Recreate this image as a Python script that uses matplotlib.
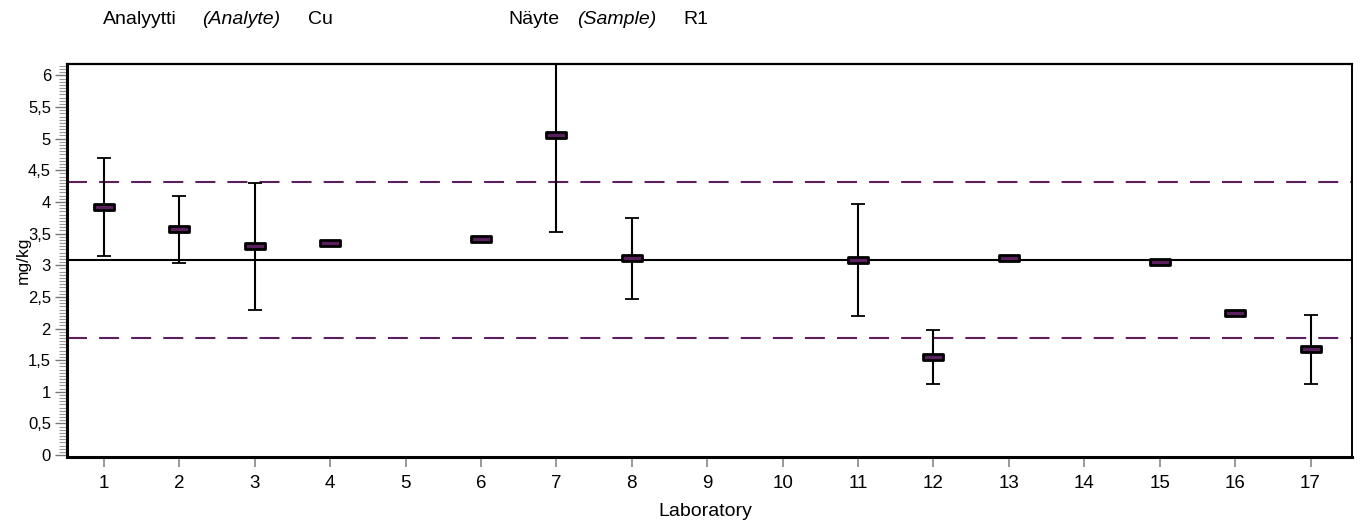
import matplotlib.pyplot as plt
import numpy as np
from matplotlib.ticker import MultipleLocator, FuncFormatter
from matplotlib.path import Path

plt.rcParams['font.family'] = ['Liberation Sans', 'DejaVu Sans']

# results per laboratory (mg/kg) and expanded uncertainty
labs = [1, 2, 3, 4, 6, 7, 8, 11, 12, 13, 15, 16, 17]
result = [3.92, 3.57, 3.30, 3.35, 3.41, 5.06, 3.11, 3.08, 1.55, 3.11, 3.05, 2.24, 1.67]
uncert = [0.78, 0.53, 1.00, 0, 0, 1.54, 0.64, 0.88, 0.43, 0, 0, 0, 0.55]

assigned = 3.08
lower_lim = 1.85
upper_lim = 4.31

fig = plt.figure(figsize=(13.61, 5.24), dpi=100)
ax = fig.add_axes([0.0492, 0.1279, 0.9442, 0.75])

purple = '#5b1f5e'

ax.axhline(assigned, color='black', lw=1.5, zorder=2)
ax.axhline(upper_lim, color=purple, lw=1.5, dashes=(9.6, 5.8), zorder=2)
ax.axhline(lower_lim, color=purple, lw=1.5, dashes=(9.6, 5.8), zorder=2)

# error bars only where an uncertainty is given
x = np.array(labs)
y = np.array(result)
u = np.array(uncert)
has_u = u > 0
ax.errorbar(x[has_u], y[has_u], yerr=u[has_u], fmt='none', ecolor='black',
            elinewidth=1.5, capsize=5, capthick=1.3, zorder=3)

# flat rectangular result marks
rect = Path([(-1.6, -0.42), (1.6, -0.42), (1.6, 0.42), (-1.6, 0.42), (-1.6, -0.42)],
            [Path.MOVETO, Path.LINETO, Path.LINETO, Path.LINETO, Path.CLOSEPOLY])
ax.plot(x, y, linestyle='none', marker=rect, markersize=15,
        markerfacecolor=purple, markeredgecolor='black', markeredgewidth=2.0, zorder=4)

ax.set_xlim(0.51, 17.55)
ax.set_ylim(-0.03, 6.18)
ax.set_xticks(range(1, 18))
ax.yaxis.set_major_locator(MultipleLocator(0.5))
ax.yaxis.set_minor_locator(MultipleLocator(0.05))
ax.yaxis.set_major_formatter(FuncFormatter(lambda v, p: ('%g' % v).replace('.', ',')))

ax.tick_params(axis='x', direction='out', length=7, width=1.2, color='#888888',
               labelsize=13.5, pad=6)
ax.tick_params(axis='y', which='major', direction='out', length=8.5, width=1,
               color='#777777', labelsize=12, pad=3)
ax.tick_params(axis='y', which='minor', direction='out', length=6, width=0.8,
               color='#999999')

ax.spines['left'].set_linewidth(2.2)
ax.spines['bottom'].set_linewidth(2.2)
ax.spines['top'].set_linewidth(1.6)
ax.spines['right'].set_linewidth(1.4)

ax.set_xlabel('Laboratory', fontsize=14)
ax.xaxis.set_label_coords(0.497, -0.118)
ax.set_ylabel('mg/kg', fontsize=12.5)
ax.yaxis.set_label_coords(-0.028, 0.5)

hy = 1 - 19 / 524
fig.text(103 / 1361, hy, 'Analyytti', fontsize=14, va='center')
fig.text(202 / 1361, hy, '(Analyte)', fontsize=14, va='center', style='italic')
fig.text(308 / 1361, hy, 'Cu', fontsize=14, va='center')
fig.text(508 / 1361, hy, 'Näyte', fontsize=14, va='center')
fig.text(577 / 1361, hy, '(Sample)', fontsize=14, va='center', style='italic')
fig.text(683 / 1361, hy, 'R1', fontsize=14, va='center')

fig.savefig('out.png', dpi=100)
